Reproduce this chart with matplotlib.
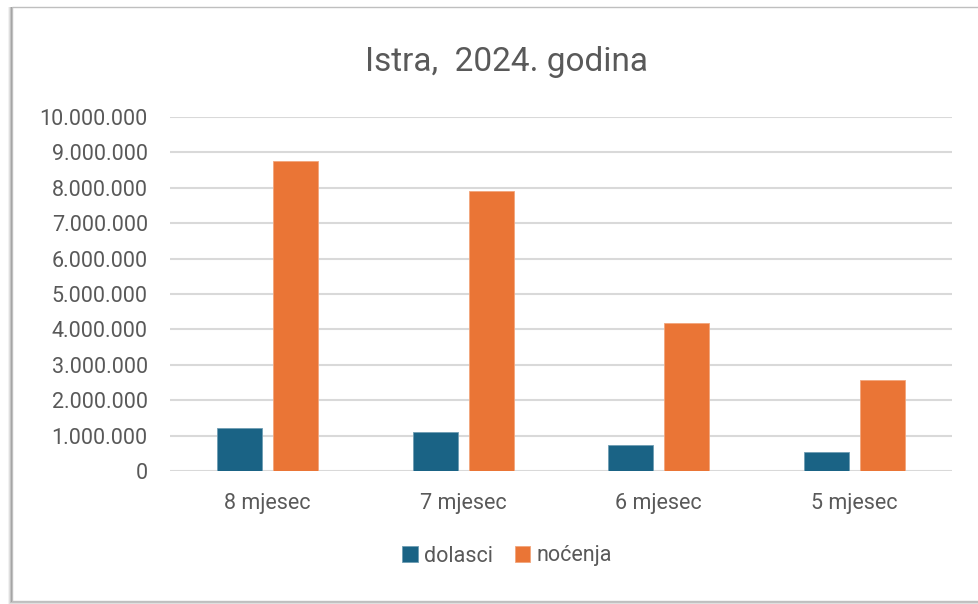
import matplotlib
matplotlib.use("Agg")
import matplotlib.pyplot as plt
from matplotlib.patches import Rectangle
from matplotlib.ticker import FuncFormatter
import numpy as np

categories = ["8 mjesec", "7 mjesec", "6 mjesec", "5 mjesec"]
dolasci = [1210000, 1100000, 730000, 530000]
nocenja = [8770000, 7920000, 4170000, 2570000]
series_names = ["dolasci", "noćenja"]
title = "Istra,  2024. godina"

plt.rcParams['font.family'] = ['Roboto', 'DejaVu Sans']
TXT = "#595959"
C1 = "#1A6385"
C2 = "#EA7536"

W, H = 979, 604
fig = plt.figure(figsize=(W/100, H/100), dpi=100)
fig.patch.set_facecolor("white")

# frame with soft shadow
for i, a in enumerate([0.05, 0.08, 0.12, 0.18]):
    off = (4 - i)
    fig.patches.append(Rectangle(((12 - off)/W, (604 - 601 - off)/H), (1020)/W, (601 - 7 + off)/H,
                                 transform=fig.transFigure, facecolor="black", alpha=a,
                                 edgecolor="none", zorder=0))
fig.patches.append(Rectangle((12/W, (604 - 601)/H), 1020/W, (601 - 7)/H,
                             transform=fig.transFigure, facecolor="white",
                             edgecolor="#BFBFBF", linewidth=1.0, zorder=1))

ax = fig.add_axes([170/W, (H - 471)/H, (952 - 170)/W, (471 - 117)/H])
ax.set_zorder(5)
ax.set_facecolor("none")
x = np.arange(len(categories))
bw = 0.23
off = 0.143
ax.bar(x - off, dolasci, bw, color=C1, edgecolor="#6F9DB3", linewidth=0.6, label=series_names[0], zorder=3)
ax.bar(x + off, nocenja, bw, color=C2, edgecolor="#F2A57C", linewidth=0.6, label=series_names[1], zorder=3)

ax.set_xlim(-0.5, len(categories) - 0.5)
ax.set_ylim(0, 10000000)
ax.set_yticks(np.arange(0, 10000001, 1000000))
ax.yaxis.set_major_formatter(FuncFormatter(lambda v, p: f"{int(v):,}".replace(",", ".")))
ax.set_xticks(x)
ax.set_xticklabels(categories)
ax.grid(axis="y", color="#D9D9D9", linewidth=1.5, zorder=0)
ax.set_axisbelow(True)
for s in ax.spines.values():
    s.set_visible(False)
ax.tick_params(axis="both", length=0, labelsize=15.5, labelcolor=TXT)
ax.tick_params(axis="y", pad=16)
ax.tick_params(axis="x", pad=16)

fig.text(507/W, 1 - 62/H, title, ha="center", va="center", fontsize=24, color=TXT, zorder=6)

leg = fig.legend(loc="center", bbox_to_anchor=(507/W, 1 - 556/H), ncol=2, frameon=False,
                 fontsize=15.5, handlelength=0.7, handleheight=0.7, handletextpad=0.3,
                 columnspacing=1.0, labelcolor=TXT)
leg.set_zorder(6)

fig.savefig("out.png", dpi=100, facecolor="white")
